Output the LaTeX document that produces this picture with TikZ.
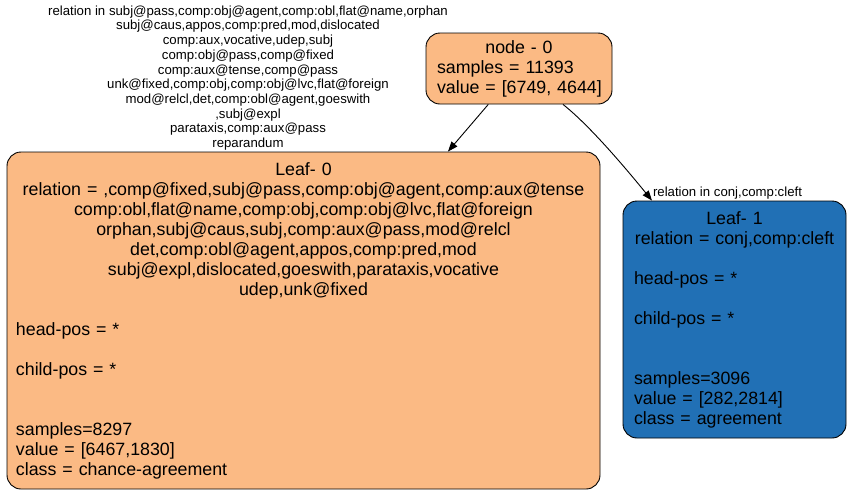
\documentclass[tikz,border=0pt]{standalone}
\usepackage{fontspec}
\setmainfont{Liberation Sans}
\usetikzlibrary{arrows.meta}
\definecolor{leafOrange}{HTML}{FBBA84}
\definecolor{leafBlue}{HTML}{2170B5}
% one line centred across the full text width of a box
\newcommand\ctrline[1]{\makebox[\linewidth]{#1}}
\begin{document}
\begin{tikzpicture}[x=1pt,y=-1pt,
  box/.style={draw=black, line width=0.9pt, rounded corners=14pt, align=left,
    inner xsep=0pt, inner ysep=0pt, font=\fontsize{17.8}{20}\selectfont},
  edge/.style={-{Triangle[length=10pt,width=7.5pt]}, line width=0.9pt},
  edgelabel/.style={font=\fontsize{13.2}{14.7}\selectfont, align=center, inner sep=0pt}]

\useasboundingbox (0,0) rectangle (851,493);

% root split
\node[box, fill=leafOrange, minimum width=186pt, minimum height=71pt, text width=164pt]
  (n0) at (519,68.5) {%
  \ctrline{node - 0}\\
  \mbox{samples = 11393}\\
  \mbox{value = [6749, 4644]}};

% left leaf
\node[box, fill=leafOrange, minimum width=593pt, minimum height=337pt, text width=575pt]
  (leaf0) at (303.5,320.5) {%
  \ctrline{Leaf- 0}\\
  \ctrline{relation = ,comp@fixed,subj@pass,comp:obj@agent,comp:aux@tense}\\
  \ctrline{comp:obl,flat@name,comp:obj,comp:obj@lvc,flat@foreign}\\
  \ctrline{orphan,subj@caus,subj,comp:aux@pass,mod@relcl}\\
  \ctrline{det,comp:obl@agent,appos,comp:pred,mod}\\
  \ctrline{subj@expl,dislocated,goeswith,parataxis,vocative}\\
  \ctrline{udep,unk@fixed}\\[20pt]
  head-pos = *\\[20pt]
  child-pos = *\\[40pt]
  samples=8297\\
  value = [6467,1830]\\
  class = chance-agreement};

% right leaf
\node[box, fill=leafBlue, minimum width=223pt, minimum height=237pt, text width=201pt]
  (leaf1) at (734.5,319.5) {%
  \ctrline{Leaf- 1}\\
  \ctrline{relation = conj,comp:cleft}\\[20pt]
  head-pos = *\\[20pt]
  child-pos = *\\[40pt]
  samples=3096\\
  value = [282,2814]\\
  class = agreement};

% edge labels
\node[edgelabel] (lab0) at (248,78) {%
  relation in subj@pass,comp:obj@agent,comp:obl,flat@name,orphan\\
  subj@caus,appos,comp:pred,mod,dislocated\\
  comp:aux,vocative,udep,subj\\
  comp:obj@pass,comp@fixed\\
  comp:aux@tense,comp@pass\\
  unk@fixed,comp:obj,comp:obj@lvc,flat@foreign\\
  mod@relcl,det,comp:obl@agent,goeswith\\
  ,subj@expl\\
  parataxis,comp:aux@pass\\
  reparandum};
\node[edgelabel] (lab1) at (727.5,193) {relation in conj,comp:cleft};

% connectors
\draw[edge] (n0) -- (leaf0);
\draw[edge] ([xshift=44pt]n0.south) .. controls +(28,22) and +(-22,-27) .. ([xshift=-82.5pt]leaf1.north);
\end{tikzpicture}
\end{document}
